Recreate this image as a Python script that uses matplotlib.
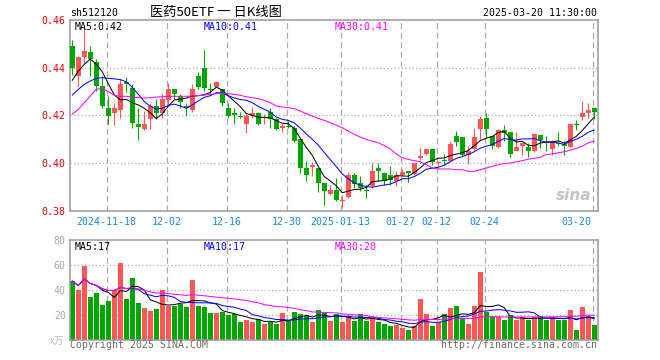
import numpy as np
import pandas as pd
import matplotlib
matplotlib.use("Agg")
import matplotlib.pyplot as plt

# -------------------------
# data
# -------------------------

opens = [0.4492, 0.4365, 0.4443, 0.4464, 0.4422, 0.4323, 0.4232, 0.4211, 0.4221, 0.4342,
         0.4313, 0.4162, 0.4141, 0.4183, 0.4239, 0.4211, 0.4263, 0.4312, 0.4281, 0.4239,
         0.4221, 0.4365, 0.4400, 0.4312, 0.4320, 0.4309, 0.4232, 0.4211, 0.4197, 0.4162,
         0.4197, 0.4211, 0.4187, 0.4214, 0.4183, 0.4148, 0.4155, 0.4148, 0.4099, 0.3979,
         0.3984, 0.3979, 0.3916, 0.3870, 0.3888, 0.3839, 0.3857, 0.3951, 0.3916, 0.3888,
         0.3902, 0.3979, 0.3958, 0.3949, 0.3926, 0.3949, 0.3965, 0.3954, 0.4021, 0.4038,
         0.4059, 0.4000, 0.4011, 0.4010, 0.4113, 0.4110, 0.4033, 0.4057, 0.4141, 0.4190,
         0.4113, 0.4068, 0.4138, 0.4131, 0.4052, 0.4071, 0.4068, 0.4050, 0.4117, 0.4089,
         0.4059, 0.4085, 0.4080, 0.4068, 0.4165, 0.4193, 0.4211, 0.4232]
closes = [0.4400, 0.4443, 0.4471, 0.4436, 0.4323, 0.4239, 0.4197, 0.4232, 0.4333, 0.4333,
          0.4169, 0.4151, 0.4162, 0.4239, 0.4211, 0.4270, 0.4312, 0.4291, 0.4257, 0.4232,
          0.4312, 0.4319, 0.4313, 0.4306, 0.4341, 0.4253, 0.4197, 0.4200, 0.4193, 0.4197,
          0.4211, 0.4162, 0.4193, 0.4183, 0.4141, 0.4155, 0.4152, 0.4092, 0.3979, 0.3949,
          0.3991, 0.3916, 0.3881, 0.3888, 0.3846, 0.3846, 0.3951, 0.3913, 0.3895, 0.3884,
          0.3965, 0.3965, 0.3923, 0.3930, 0.3951, 0.3961, 0.3958, 0.4000, 0.4031, 0.4059,
          0.4005, 0.4005, 0.4007, 0.4080, 0.4089, 0.4035, 0.4052, 0.4110, 0.4183, 0.4141,
          0.4071, 0.4138, 0.4127, 0.4038, 0.4068, 0.4085, 0.4052, 0.4120, 0.4095, 0.4085,
          0.4087, 0.4080, 0.4071, 0.4162, 0.4159, 0.4211, 0.4221, 0.4214]
highs = [0.4516, 0.4448, 0.4577, 0.4492, 0.4436, 0.4365, 0.4281, 0.4253, 0.4351, 0.4361,
         0.4330, 0.4232, 0.4218, 0.4253, 0.4267, 0.4295, 0.4337, 0.4312, 0.4288, 0.4253,
         0.4330, 0.4383, 0.4473, 0.4337, 0.4344, 0.4309, 0.4253, 0.4232, 0.4215, 0.4204,
         0.4235, 0.4215, 0.4204, 0.4232, 0.4190, 0.4165, 0.4176, 0.4155, 0.4106, 0.4010,
         0.4005, 0.3979, 0.3916, 0.3909, 0.3937, 0.3867, 0.3961, 0.3958, 0.3944, 0.3909,
         0.4000, 0.4000, 0.3963, 0.3986, 0.3965, 0.3977, 0.3968, 0.4000, 0.4064, 0.4059,
         0.4059, 0.4007, 0.4038, 0.4092, 0.4134, 0.4110, 0.4071, 0.4148, 0.4197, 0.4211,
         0.4113, 0.4141, 0.4158, 0.4131, 0.4130, 0.4085, 0.4085, 0.4120, 0.4117, 0.4113,
         0.4095, 0.4131, 0.4092, 0.4162, 0.4179, 0.4260, 0.4253, 0.4232]
lows = [0.4370, 0.4323, 0.4414, 0.4365, 0.4302, 0.4232, 0.4165, 0.4158, 0.4190, 0.4299,
        0.4148, 0.4095, 0.4137, 0.4141, 0.4183, 0.4190, 0.4243, 0.4267, 0.4232, 0.4197,
        0.4215, 0.4309, 0.4301, 0.4288, 0.4318, 0.4239, 0.4187, 0.4165, 0.4190, 0.4127,
        0.4187, 0.4159, 0.4165, 0.4145, 0.4138, 0.4131, 0.4145, 0.4089, 0.3958, 0.3926,
        0.3944, 0.3878, 0.3825, 0.3867, 0.3842, 0.3811, 0.3853, 0.3895, 0.3881, 0.3853,
        0.3895, 0.3923, 0.3906, 0.3906, 0.3902, 0.3947, 0.3920, 0.3951, 0.4014, 0.4035,
        0.3993, 0.3986, 0.3993, 0.4005, 0.4071, 0.4029, 0.3998, 0.4050, 0.4095, 0.4106,
        0.4057, 0.4064, 0.4092, 0.4024, 0.4050, 0.4035, 0.4024, 0.4047, 0.4064, 0.4050,
        0.4035, 0.4071, 0.4035, 0.4066, 0.4137, 0.4179, 0.4190, 0.4183]

# volume, 10k shares
volumes = [47.4, 40.2, 59.8, 34.5, 37.7, 28.1, 31.3, 39.9, 62.2, 33.2,
           49.8, 29.7, 25.9, 23.2, 24.8, 39.9, 27.5, 27.1, 29.1, 26.7,
           48.5, 27.1, 26.3, 21.6, 21.6, 22.4, 20.0, 21.1, 14.4, 16.0,
           14.9, 17.3, 13.0, 14.9, 12.7, 21.6, 15.4, 22.4, 21.3, 19.2,
           14.4, 24.0, 21.9, 15.5, 21.3, 14.4, 19.2, 15.2, 20.8, 15.2,
           17.8, 14.4, 12.7, 11.1, 11.9, 9.8, 7.9, 11.1, 32.9, 20.8,
           11.1, 14.4, 20.8, 25.9, 27.1, 17.6, 12.7, 27.1, 55.0, 22.4,
           18.4, 18.7, 16.0, 20.0, 16.0, 18.4, 16.0, 18.4, 19.2, 16.5,
           18.4, 16.0, 16.0, 24.0, 7.9, 26.3, 19.2, 11.9]

# price MA30 as drawn (history before the window is not shown)
ma30_price = [0.4204, 0.4225, 0.4253, 0.4281, 0.4309, 0.4313, 0.4299, 0.4284, 0.4280, 0.4280,
              0.4277, 0.4274, 0.4273, 0.4274, 0.4277, 0.4278, 0.4280, 0.4280, 0.4280, 0.4280,
              0.4281, 0.4283, 0.4285, 0.4288, 0.4291, 0.4292, 0.4291, 0.4288, 0.4284, 0.4278,
              0.4274, 0.4270, 0.4263, 0.4253, 0.4239, 0.4235, 0.4232, 0.4228, 0.4218, 0.4207,
              0.4197, 0.4187, 0.4179, 0.4169, 0.4159, 0.4148, 0.4134, 0.4120, 0.4109, 0.4099,
              0.4092, 0.4085, 0.4073, 0.4059, 0.4038, 0.4022, 0.4015, 0.4010, 0.4005, 0.3993,
              0.3979, 0.3975, 0.3975, 0.3975, 0.3972, 0.3972, 0.3965, 0.3965, 0.3972, 0.3979,
              0.3986, 0.3993, 0.3998, 0.4000, 0.4005, 0.4010, 0.4016, 0.4020, 0.4024, 0.4036,
              0.4038, 0.4043, 0.4047, 0.4054, 0.4061, 0.4071, 0.4085, 0.4092]
# first MA5 / MA10 points (need days before the window)
ma5_head = [0.4347, 0.4386, 0.4414, 0.4436]
ma10_head = [0.4285, 0.4309, 0.4330, 0.4344, 0.4355, 0.4358, 0.4355, 0.4353, 0.4350]

tick_pos = [6, 16, 26, 36, 45, 55, 61, 69, 87]
tick_labels = ["2024-11-18", "12-02", "12-16", "12-30", "2025-01-13",
               "01-27", "02-12", "02-24", "03-20"]
vol_ma_text = ["17", "17", "20"]

# -------------------------
# helpers
# -------------------------

W, H = 660, 360
MONO = "DejaVu Sans Mono"
CJK = ["Noto Sans CJK SC", "DejaVu Sans"]
RED, GREEN = "#ff5656", "#00a600"
GRID = "#aaaaaa"
PX = 0.72  # one pixel in points

def fx(x):
    return x / W

def fy(y):
    return 1 - y / H

o = np.array(opens); c = np.array(closes)
hi = np.array(highs); lo = np.array(lows)
vol = np.array(volumes)
n = len(o)
x = np.arange(n)
up = c >= o
cols = np.where(up, RED, GREEN)

ma5 = pd.Series(c).rolling(5).mean().values
ma5[:len(ma5_head)] = ma5_head
ma10 = pd.Series(c).rolling(10).mean().values
ma10[:len(ma10_head)] = ma10_head
vs = pd.Series(vol)
vma5 = vs.rolling(5, min_periods=1).mean().values
vma10 = vs.rolling(10, min_periods=1).mean().values
vma30 = vs.rolling(30, min_periods=1).mean().values

fig = plt.figure(figsize=(6.6, 3.6), dpi=100)
ax = fig.add_axes([fx(70), fy(210.7), 527.7 / W, 190.7 / H])
axv = fig.add_axes([fx(70), fy(340.3), 527.7 / W, 100 / H])

xl = (-0.383, 87.57)
dash_x = np.array(tick_pos) - 0.25

for a in (ax, axv):
    a.set_xlim(*xl)
    a.set_xticks([])
    for s in a.spines.values():
        s.set_color("#9a9a9a")
        s.set_linewidth(1.1)
    a.tick_params(axis="y", length=0, pad=3)
    for d in dash_x:
        a.axvline(d, color=GRID, lw=PX * 1.2, ls=(0, (5, 3)), zorder=0)

# -------------------------
# candles
# -------------------------

ax.set_ylim(0.38, 0.46)
for g in (0.40, 0.42, 0.44):
    ax.axhline(g, color=GRID, lw=PX * 1.2, ls=(0, (1, 2)), zorder=0)

ax.vlines(x, lo, hi, colors=cols, lw=PX * 1.1, zorder=2)
body = np.maximum(np.abs(c - o), 0.00025)
ax.bar(x, body, bottom=np.minimum(o, c), width=0.78, color=cols, lw=0, zorder=3)

ax.plot(x, ma5, color="black", lw=PX, zorder=4)
ax.plot(x, ma10, color="#0000ff", lw=PX, zorder=4)
ax.plot(x, ma30_price, color="#ff00ff", lw=PX, zorder=4)

ax.set_yticks([0.38, 0.40, 0.42, 0.44, 0.46])
ax.set_yticklabels(["%.2f" % v for v in [0.38, 0.40, 0.42, 0.44, 0.46]],
                   color="#e60000", fontsize=7.1, family=MONO)

for p, lab in zip(dash_x, tick_labels):
    if p > 85:
        ax.text(86.55, -0.057, lab, transform=ax.get_xaxis_transform(), ha="right",
                va="center", color="#1a88d8", fontsize=7.1, family=MONO)
    else:
        ax.text(p, -0.057, lab, transform=ax.get_xaxis_transform(), ha="center",
                va="center", color="#1a88d8", fontsize=7.1, family=MONO)

fig.text(fx(75), fy(26.5), "MA5:%.2f" % ma5[-1], color="black", fontsize=7.1, family=MONO, va="center")
fig.text(fx(204), fy(26.5), "MA10:%.2f" % ma10[-1], color="#0000ff", fontsize=7.1, family=MONO, va="center")
fig.text(fx(334.5), fy(26.5), "MA30:%.2f" % ma30_price[-1], color="#ff00ff", fontsize=7.1, family=MONO, va="center")

ax.text(83.5, 0.3865, "sina", fontsize=11, fontweight="bold", style="italic",
        color="#c4c4c4", ha="center", va="center", zorder=1)

# -------------------------
# volume
# -------------------------

axv.set_ylim(0, 80)
for g in (20, 40, 60):
    axv.axhline(g, color=GRID, lw=PX * 1.2, ls=(0, (1, 2)), zorder=0)
axv.bar(x, vol, width=0.78, color=cols, lw=0, zorder=2)
axv.plot(x, vma5, color="black", lw=PX, zorder=3)
axv.plot(x, vma10, color="#0000ff", lw=PX, zorder=3)
axv.plot(x, vma30, color="#ff00ff", lw=PX, zorder=3)
axv.set_yticks([20, 40, 60, 80])
axv.set_yticklabels(["20", "40", "60", "80"], color="#aaaaaa", fontsize=7.1, family=MONO)

fig.text(fx(75), fy(246.5), "MA5:" + vol_ma_text[0], color="black", fontsize=7.1, family=MONO, va="center")
fig.text(fx(204), fy(246.5), "MA10:" + vol_ma_text[1], color="#0000ff", fontsize=7.1, family=MONO, va="center")
fig.text(fx(334.5), fy(246.5), "MA30:" + vol_ma_text[2], color="#ff00ff", fontsize=7.1, family=MONO, va="center")
fig.text(fx(64), fy(341), "x万", color="#bbbbbb", fontsize=7, family=CJK, ha="right", va="center",
         style="italic")

# -------------------------
# header / footer texts
# -------------------------

fig.text(fx(70), fy(13), "sh512120", color="black", fontsize=7.1, family=MONO, va="center")
fig.text(fx(216), fy(12.5), "医药50ETF 一 日K线图", color="black", fontsize=9.5, family=CJK,
         ha="center", va="center")
fig.text(fx(597), fy(12.5), "2025-03-20 11:30:00", color="black", fontsize=7.1, family=MONO,
         ha="right", va="center")
fig.text(fx(70), fy(345.5), "Copyright 2025 SINA.COM", color="#6a6a6a", fontsize=7.1, family=MONO,
         va="center")
fig.text(fx(597), fy(345.5), "http://finance.sina.com.cn", color="#6a6a6a", fontsize=7.1, family=MONO,
         ha="right", va="center")

fig.savefig("out.png", dpi=100, facecolor="white")
